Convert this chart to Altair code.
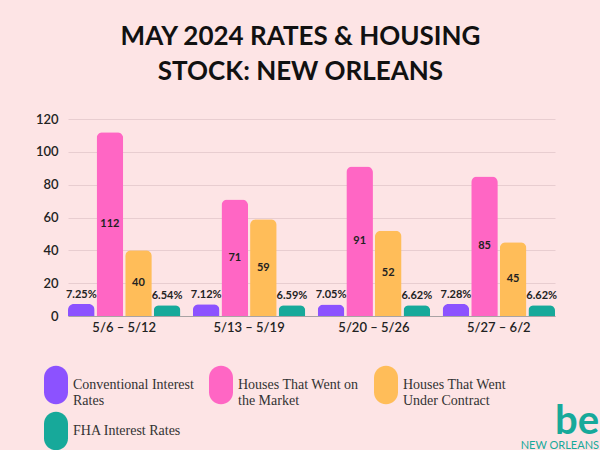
import altair as alt
import pandas as pd

weeks = ["5/6 – 5/12", "5/13 – 5/19", "5/20 – 5/26", "5/27 – 6/2"]
series = [
    "Conventional Interest Rates",
    "Houses That Went on the Market",
    "Houses That Went Under Contract",
    "FHA Interest Rates",
]
conventional_rates = [7.25, 7.12, 7.05, 7.28]
houses_on_market = [112, 71, 91, 85]
houses_under_contract = [40, 59, 52, 45]
fha_rates = [6.54, 6.59, 6.62, 6.62]
colors = ["#8c52ff", "#ff66c4", "#ffbd59", "#17a99a"]
legend_lines = {
    "Conventional Interest Rates": ["Conventional Interest", "Rates"],
    "Houses That Went on the Market": ["Houses That Went on", "the Market"],
    "Houses That Went Under Contract": ["Houses That Went", "Under Contract"],
    "FHA Interest Rates": ["FHA Interest Rates"],
}
y_ticks = [0, 20, 40, 60, 80, 100, 120]

rows = []
for i, w in enumerate(weeks):
    for s, vals, is_rate in [
        (series[0], conventional_rates, True),
        (series[1], houses_on_market, False),
        (series[2], houses_under_contract, False),
        (series[3], fha_rates, True),
    ]:
        v = vals[i]
        rows.append({
            "week": w,
            "series": s,
            "value": v,
            "label": f"{v:.2f}%" if is_rate else str(v),
            "kind": "rate" if is_rate else "count",
        })
df = pd.DataFrame(rows)

label_expr = ""
for k, lines in legend_lines.items():
    arr = "[" + ",".join(f"'{l}'" for l in lines) + "]"
    label_expr += f"datum.label == '{k}' ? {arr} : "
label_expr += "datum.label"

# tall rounded pill; nominal symbol box is 24px wide, path extends to ~38px tall
pill = "M-1,-0.6 A1,1 0 0 1 1,-0.6 L1,0.6 A1,1 0 0 1 -1,0.6 Z"

y_axis = alt.Axis(values=y_ticks, tickCount=7, domain=False, ticks=False, gridColor="#e8cdd0",
                  labelOverlap=False, labelFont="Lato", labelFontSize=13,
                  labelFontWeight=600, labelColor="#222", labelPadding=10)
y_scale = alt.Scale(domain=[0, 120])

base = alt.Chart(df).encode(
    x=alt.X(
        "week:N", sort=weeks, title=None,
        scale=alt.Scale(domain=weeks, paddingInner=0.1, paddingOuter=0),
        axis=alt.Axis(labelAngle=0, domain=True, domainColor="#a9a3a4", ticks=False,
                      grid=False, labelFont="Lato", labelFontSize=13, labelFontWeight=600,
                      labelColor="#222", labelPadding=5),
    ),
    xOffset=alt.XOffset("series:N", scale=alt.Scale(domain=series, paddingInner=0.07)),
)

bars = base.mark_bar(cornerRadiusTopLeft=6, cornerRadiusTopRight=6).encode(
    y=alt.Y("value:Q", title=None, scale=y_scale, axis=y_axis),
    color=alt.Color(
        "series:N",
        scale=alt.Scale(domain=series, range=colors),
        legend=alt.Legend(
            title=None, orient="none", legendX=-24, legendY=254, direction="horizontal",
            columns=3, symbolType=pill, symbolSize=576, symbolStrokeWidth=0,
            labelFont="Liberation Serif", labelFontSize=14, labelColor="#333",
            labelExpr=label_expr, labelOffset=5, rowPadding=3, columnPadding=15,
            gridAlign="all", padding=0, labelLimit=250, labelBaseline="middle",
        ),
    ),
)

rate_labels = base.transform_filter(alt.datum.kind == "rate").mark_text(
    baseline="bottom", dy=-4, font="Lato", fontSize=11, fontWeight="bold", color="#222"
).encode(y=alt.Y("value:Q", title=None, scale=y_scale, axis=y_axis), text="label:N")

count_labels = base.transform_filter(alt.datum.kind == "count").transform_calculate(
    mid="datum.value / 2"
).mark_text(
    baseline="middle", font="Lato", fontSize=11, fontWeight="bold", color="#222"
).encode(y=alt.Y("mid:Q", title=None, scale=y_scale, axis=y_axis), text="label:N")

logo_df = pd.DataFrame({"t": ["be"], "s": ["NEW ORLEANS"]})
logo_be = alt.Chart(logo_df).mark_text(
    font="Lato", fontSize=40, fontWeight="bold", color="#17a99a", align="right", baseline="alphabetic"
).encode(x=alt.value(531), y=alt.value(315), text="t:N")
logo_sub = alt.Chart(logo_df).mark_text(
    font="Lato", fontSize=11, color="#17a99a", align="right", baseline="alphabetic"
).encode(x=alt.value(531), y=alt.value(330), text="s:N")

chart = alt.layer(bars, rate_labels, count_labels, logo_be, logo_sub).properties(
    width=487, height=197,
    title=alt.Title(
        ["MAY 2024 RATES & HOUSING", "STOCK: NEW ORLEANS"],
        font="Lato", fontSize=26, fontWeight="bold", color="#111", lineHeight=35,
        anchor="middle", offset=28, dx=-11,
    ),
    autosize=alt.AutoSizeParams(type="none"),
    padding={"left": 68, "top": 119, "right": 45, "bottom": 134},
    background="#fde4e5",
).configure_view(stroke=None)

chart.save("out.html", embed_options={"renderer": "svg", "actions": False})
